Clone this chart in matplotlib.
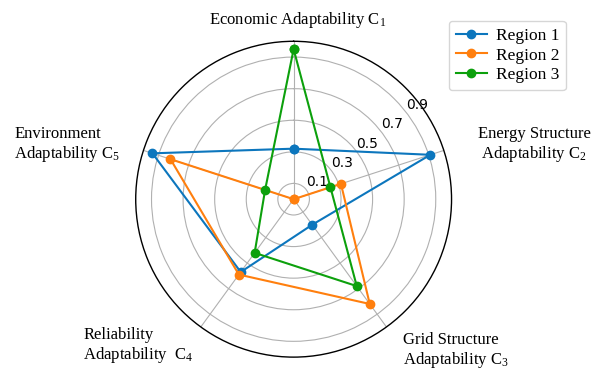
import numpy as np
import matplotlib
matplotlib.use("Agg")
import matplotlib.pyplot as plt

plt.rcParams["mathtext.fontset"] = "custom"
plt.rcParams["mathtext.rm"] = "Liberation Serif"
plt.rcParams["mathtext.it"] = "Liberation Serif:italic"

# Evaluation dimensions (clockwise from the top)
categories = [
    r"Economic Adaptability C$_\mathrm{1}$",
    "Energy Structure\n" + r"Adaptability C$_\mathrm{2}$",
    "Grid Structure\n" + r"Adaptability C$_\mathrm{3}$",
    "Reliability\n" + r"Adaptability  C$_\mathrm{4}$",
    "Environment\n" + r"Adaptability C$_\mathrm{5}$",
]
series_names = ["Region 1", "Region 2", "Region 3"]
region1 = [0.32, 0.91, 0.20, 0.57, 0.94]
region2 = [0.00, 0.315, 0.82, 0.59, 0.82]
region3 = [0.95, 0.245, 0.68, 0.42, 0.19]
r_ticks = [0.1, 0.3, 0.5, 0.7, 0.9]
r_tick_labels = ["0.1", "0.3", "0.5", "0.7", "0.9"]

colors = ["#0c76bd", "#ff7f0e", "#0ca00c"]
serif = ["Liberation Serif", "DejaVu Serif"]

fig = plt.figure(figsize=(5.92, 3.72), dpi=100)
ax = fig.add_axes([0.229, 0.040, 0.534, 0.849], projection="polar")
ax.set_theta_offset(np.pi / 2)
ax.set_theta_direction(-1)

n = len(categories)
angles = np.linspace(0, 2 * np.pi, n, endpoint=False)
closed = np.concatenate([angles, angles[:1]])

for name, vals, c in zip(series_names, [region1, region2, region3], colors):
    v = np.concatenate([vals, vals[:1]])
    ax.plot(closed, v, color=c, lw=1.5, marker="o", markersize=6, label=name)

ax.set_ylim(0, 1.0)
ax.set_yticks(r_ticks)
ax.set_yticklabels(r_tick_labels, fontsize=10)
ax.set_rlabel_position(52)
ax.set_xticks(angles)
ax.set_xticklabels([])
ax.grid(True, color="#b0b0b0", lw=0.8)
ax.spines["polar"].set_color("black")
ax.spines["polar"].set_linewidth(1.0)

# category labels placed around the circle (axes fraction coordinates)
label_pos = [
    (0.514, 1.066, "center", "center"),
    (1.261, 0.671, "center", "center"),
    (0.846, 0.020, "left", "left"),
    (-0.166, 0.034, "left", "left"),
    (-0.385, 0.671, "left", "left"),
]
for text, (x, y, ha, ma) in zip(categories, label_pos):
    ax.text(x, y, text, transform=ax.transAxes, ha=ha, va="center",
            multialignment=ma, fontsize=12, family=serif, clip_on=False,
            linespacing=1.15)

leg = fig.legend(loc="upper right", bbox_to_anchor=(0.956, 0.944),
                 borderaxespad=0.0,
                 prop={"family": serif, "size": 12.5}, handlelength=1.8,
                 borderpad=0.4, labelspacing=0.2, handletextpad=0.5)

fig.savefig("out.png", dpi=100)
